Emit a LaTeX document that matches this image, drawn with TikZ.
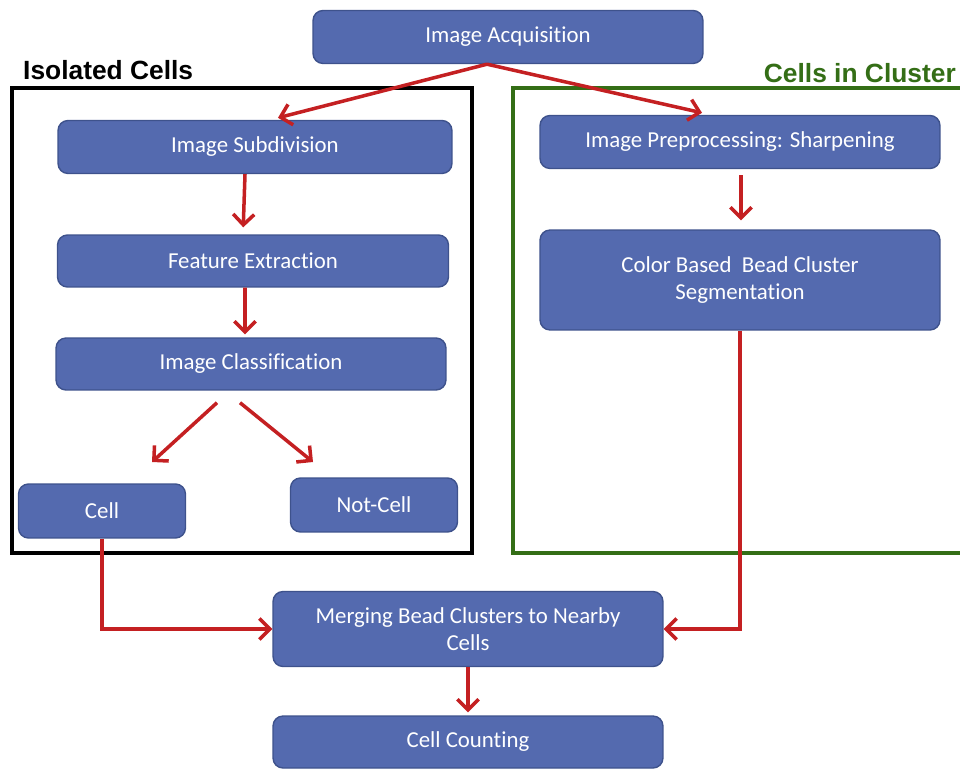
\documentclass[tikz,border=0pt]{standalone}
\usepackage{fontspec}
\setmainfont{Carlito}[Ligatures=NoCommon]
\newfontfamily\headfont{Liberation Sans}
\usetikzlibrary{arrows.meta}

\definecolor{boxblue}{RGB}{84,106,175}
\definecolor{boxline}{RGB}{62,82,140}
\definecolor{arrowred}{RGB}{196,32,34}
\definecolor{clustergreen}{RGB}{52,110,22}

\begin{document}
\begin{tikzpicture}[x=0.02cm,y=-0.02cm,
    step node/.style={rectangle,rounded corners=0.2cm,draw=boxline,line width=0.8pt,fill=boxblue,
        text=white,font=\fontsize{13}{15.5}\selectfont,align=center,inner sep=2pt},
    flow/.style={draw=arrowred,line width=2pt,-{Straight Barb[length=6pt,width=12pt,line width=2pt]}},
    title/.style={font=\headfont\bfseries\fontsize{15}{18}\selectfont}]

    \useasboundingbox (0,0) rectangle (960,770);

    % group frames
    \draw[line width=2.2pt] (12,88) rectangle (472,553);
    \draw[clustergreen,line width=1.8pt] (975,88) -- (513,88) -- (513,553) -- (975,553);
    \node[title,anchor=west] (iso) at (17,70) {Isolated Cells};
    \node[title,anchor=east,text=clustergreen] (clu) at (962,73) {Cells in Cluster};

    \node[step node,minimum width=7.8cm,minimum height=1.06cm] (acq) at (508,37) {Image Acquisition};

    % left branch
    \node[step node,minimum width=7.88cm,minimum height=1.06cm] (sub) at (255,147) {Image Subdivision};
    \node[step node,minimum width=7.82cm,minimum height=1.04cm] (feat) at (253,261) {Feature Extraction};
    \node[step node,minimum width=7.8cm,minimum height=1.04cm] (cls) at (251,364) {Image Classification};
    \node[step node,minimum width=3.34cm,minimum height=1.08cm] (cell) at (102,511) {Cell};
    \node[step node,minimum width=3.34cm,minimum height=1.08cm] (notcell) at (374,505) {Not-Cell};

    % right branch
    \node[step node,minimum width=8cm,minimum height=1.06cm] (pre) at (740,142) {Image Preprocessing: Sharpening};
    \node[step node,minimum width=8cm,minimum height=2cm] (seg) at (740,280) {Color Based\ \ Bead Cluster\\Segmentation};

    \node[step node,minimum width=7.8cm,minimum height=1.5cm] (merge) at (468,629) {Merging Bead Clusters to Nearby\\Cells};
    \node[step node,minimum width=7.8cm,minimum height=1.04cm] (count) at (468,742) {Cell Counting};

    \coordinate (tocell) at (152,462);
    \coordinate (tonot) at (313,462);

    \draw[flow] ([xshift=-0.42cm]acq.south) -- ([xshift=0.46cm,yshift=0.04cm]sub.north);
    \draw[flow] ([xshift=-0.42cm]acq.south) -- ([xshift=-0.76cm,yshift=0.04cm]pre.north);
    \draw[flow,shorten >=0.14cm] ([xshift=-0.2cm]sub.south) -- ([xshift=-0.2cm]feat.north);
    \draw[flow,shorten >=0.06cm] ([xshift=-0.16cm]feat.south) -- ([xshift=-0.12cm]cls.north);
    \draw[flow] ([xshift=-0.68cm,yshift=-0.24cm]cls.south) -- (tocell);
    \draw[flow] ([xshift=-0.22cm,yshift=-0.24cm]cls.south) -- (tonot);
    \draw[flow,shorten <=0.12cm,shorten >=0.18cm] ([xshift=0.02cm]pre.south) -- ([xshift=0.02cm]seg.north);
    \draw[flow] (cell.south) |- (merge.west);
    \draw[flow] (seg.south) |- (merge.east);
    \draw[flow,shorten >=0.06cm] (merge.south) -- (count.north);
\end{tikzpicture}
\end{document}
